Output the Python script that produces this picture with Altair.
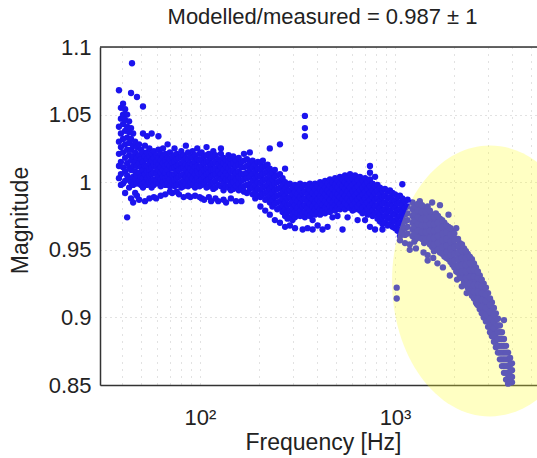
import altair as alt
import pandas as pd

# ---------------- data ----------------
# each region: column frequencies [Hz] and, per column, the magnitudes plotted there
low_freq = [38.4, 39.3, 40.3, 41.3, 42.3, 43.3, 44.3, 44.8, 45.4, 46.5, 47.5, 48.7, 49.8, 51.0, 52.2]
low_mag = [
    [1.068, 1.041, 1.030, 1.021, 1.012, 1.003],
    [1.055, 1.047, 1.036, 1.026, 1.015, 1.006, 0.998],
    [1.058, 1.050, 1.043, 1.032, 1.022, 1.011, 0.999],
    [1.054, 1.046, 1.038, 1.028, 1.018, 1.008, 1.001, 0.992],
    [1.050, 1.041, 1.033, 1.024, 1.014, 1.005, 0.974],
    [1.045, 1.037, 1.029, 1.020, 1.011, 1.003, 0.996],
    [1.066, 1.040, 1.032, 1.024, 1.016, 1.009, 1.000, 0.988],
    [1.088],
    [1.036, 1.027, 1.019, 1.012, 1.004, 0.998, 0.985],
    [1.030, 1.022, 1.015, 1.008, 1.002, 0.992],
    [1.063, 1.026, 1.018, 1.012, 1.005, 0.999, 0.990],
    [1.028, 1.020, 1.014, 1.007, 1.001, 0.987],
    [1.024, 1.017, 1.011, 1.004, 0.998],
    [1.056, 1.036, 1.022, 1.015, 1.009, 1.003, 0.996],
    [1.027, 1.019, 1.012, 1.006, 1.000, 0.986],
]

mid_freq = [53.5, 55.0, 56.5, 58.0, 59.6, 61.2, 62.9, 64.6, 66.4, 68.2, 70.1, 72.0,
            74.0, 76.0, 78.0, 80.2, 82.4, 84.6, 86.9, 89.3, 91.7, 94.3, 96.8, 99.5]
mid_mag = [
    [1.034, 1.022, 1.017, 1.012, 1.008, 1.003, 0.998],
    [1.025, 1.019, 1.014, 1.009, 1.005, 1.000, 0.988],
    [1.036, 1.021, 1.016, 1.011, 1.006, 1.001, 0.996],
    [1.023, 1.018, 1.013, 1.007, 1.002, 0.998, 0.989],
    [1.020, 1.015, 1.011, 1.006, 1.001, 0.988],
    [1.034, 1.024, 1.018, 1.013, 1.009, 1.004, 0.999],
    [1.021, 1.016, 1.011, 1.007, 1.002, 0.997, 0.990],
    [1.025, 1.019, 1.014, 1.009, 1.004, 1.000],
    [1.021, 1.016, 1.012, 1.007, 1.003, 0.998, 0.991],
    [1.028, 1.018, 1.013, 1.009, 1.004, 0.999],
    [1.022, 1.017, 1.012, 1.006, 1.002, 0.997, 0.993],
    [1.019, 1.014, 1.010, 1.005, 1.000, 0.992],
    [1.025, 1.020, 1.015, 1.011, 1.006, 1.001, 0.997],
    [1.021, 1.017, 1.012, 1.008, 1.003, 0.998, 0.993],
    [1.018, 1.013, 1.009, 1.004, 0.999, 0.991],
    [1.023, 1.019, 1.014, 1.010, 1.005, 1.000, 0.996],
    [1.020, 1.016, 1.011, 1.006, 1.001, 0.997, 0.989],
    [1.027, 1.018, 1.013, 1.009, 1.004, 0.999],
    [1.022, 1.017, 1.012, 1.007, 1.002, 0.997, 0.990],
    [1.019, 1.014, 1.010, 1.005, 1.000, 0.989],
    [1.023, 1.018, 1.013, 1.008, 1.003, 0.998],
    [1.020, 1.015, 1.011, 1.006, 1.001, 0.996, 0.990],
    [1.025, 1.017, 1.012, 1.008, 1.003, 0.998],
    [1.021, 1.016, 1.011, 1.006, 1.001, 0.997, 0.989],
]

hund_freq = [102, 105, 108, 111, 114, 117, 120, 124, 128, 132, 136, 140, 144, 148,
             153, 158, 163, 168, 174, 180, 186, 192, 198]
hund_mag = [
    [1.022, 1.017, 1.012, 1.007, 1.002, 0.998, 0.988],
    [1.019, 1.014, 1.009, 1.004, 0.999, 0.987],
    [1.026, 1.020, 1.015, 1.010, 1.006, 1.001, 0.996],
    [1.021, 1.016, 1.011, 1.007, 1.002, 0.997, 0.989],
    [1.018, 1.013, 1.009, 1.004, 0.999, 0.986],
    [1.023, 1.019, 1.014, 1.009, 1.005, 1.000, 0.995],
    [1.020, 1.015, 1.010, 1.006, 1.001, 0.996, 0.988],
    [1.017, 1.013, 1.008, 1.003, 0.998, 0.986],
    [1.025, 1.021, 1.016, 1.011, 1.006, 1.002, 0.997],
    [1.018, 1.014, 1.009, 1.004, 0.999, 0.994, 0.987],
    [1.016, 1.012, 1.007, 1.002, 0.997, 0.985],
    [1.020, 1.015, 1.010, 1.005, 1.001, 0.996],
    [1.017, 1.013, 1.008, 1.003, 0.998, 0.994, 0.988],
    [1.019, 1.014, 1.009, 1.004, 1.000, 0.995],
    [1.016, 1.012, 1.007, 1.002, 0.997, 0.986],
    [1.018, 1.013, 1.008, 1.004, 0.999, 0.994],
    [1.015, 1.011, 1.006, 1.001, 0.996, 0.986],
    [1.021, 1.016, 1.011, 1.006, 1.002, 0.997, 0.993],
    [1.017, 1.012, 1.007, 1.003, 0.998, 0.992],
    [1.022, 1.014, 1.009, 1.004, 0.999, 0.995],
    [1.016, 1.011, 1.006, 1.001, 0.996, 0.991],
    [1.013, 1.008, 1.003, 0.998, 0.993, 0.988],
    [1.015, 1.010, 1.005, 1.000, 0.995, 0.990],
]

dip_freq = [204, 210, 216, 222, 228, 235, 242, 249, 257, 265, 273, 281, 289, 298, 307, 316]
dip_mag = [
    [1.014, 1.009, 1.004, 0.999, 0.994, 0.989, 0.982],
    [1.016, 1.011, 1.006, 1.001, 0.996, 0.991],
    [1.012, 1.007, 1.002, 0.997, 0.992, 0.987, 0.979],
    [1.013, 1.008, 1.003, 0.998, 0.993, 0.988],
    [1.025, 1.010, 1.005, 1.000, 0.995, 0.990, 0.985, 0.976],
    [1.007, 1.002, 0.997, 0.992, 0.987, 0.982],
    [1.009, 1.004, 0.999, 0.994, 0.989, 0.984, 0.972],
    [1.005, 1.000, 0.995, 0.990, 0.985, 0.980],
    [1.028, 1.006, 1.001, 0.996, 0.991, 0.986, 0.981, 0.970],
    [1.003, 0.998, 0.993, 0.988, 0.983, 0.978],
    [1.010, 1.000, 0.995, 0.990, 0.985, 0.980, 0.975, 0.967],
    [0.998, 0.993, 0.988, 0.983, 0.978, 0.973],
    [0.999, 0.994, 0.989, 0.984, 0.979, 0.974, 0.968],
    [0.996, 0.991, 0.986, 0.981, 0.976, 0.972],
    [0.998, 0.993, 0.988, 0.983, 0.978, 0.974, 0.966],
    [0.996, 0.991, 0.986, 0.981, 0.977],
]

bump_freq = [326, 336, 345, 356, 366, 378, 389, 401, 413, 425, 438, 451, 464, 478, 493,
             507, 522, 538, 554, 571, 588, 606, 624, 643, 661, 681, 702, 723, 744, 767,
             790, 813, 837, 862, 888, 915, 942, 970]
bump_mag = [
    [0.999, 0.994, 0.989, 0.984, 0.979, 0.975],
    [0.997, 0.992, 0.987, 0.982, 0.977, 0.965],
    [1.049, 1.040, 1.034, 0.998, 0.993, 0.988, 0.983, 0.978, 0.974],
    [0.996, 0.991, 0.986, 0.981, 0.977, 0.966],
    [0.999, 0.994, 0.989, 0.984, 0.979, 0.975],
    [0.997, 0.992, 0.987, 0.982, 0.977, 0.972, 0.965],
    [0.999, 0.995, 0.990, 0.985, 0.980, 0.976],
    [0.997, 0.992, 0.987, 0.982, 0.978, 0.968],
    [1.000, 0.995, 0.990, 0.985, 0.980, 0.976],
    [0.998, 0.993, 0.988, 0.983, 0.979, 0.965],
    [1.001, 0.996, 0.991, 0.986, 0.981, 0.977],
    [0.999, 0.994, 0.989, 0.984, 0.980, 0.967],
    [1.002, 0.997, 0.992, 0.987, 0.982, 0.978],
    [1.000, 0.995, 0.990, 0.985, 0.981, 0.974],
    [1.003, 0.998, 0.993, 0.988, 0.983, 0.979],
    [1.001, 0.996, 0.991, 0.986, 0.981, 0.975],
    [1.004, 0.999, 0.994, 0.989, 0.984, 0.980],
    [1.002, 0.997, 0.992, 0.987, 0.982, 0.965],
    [1.005, 1.000, 0.995, 0.990, 0.985, 0.980],
    [1.003, 0.998, 0.993, 0.988, 0.983, 0.974],
    [1.006, 1.001, 0.996, 0.991, 0.986, 0.981],
    [1.003, 0.998, 0.993, 0.988, 0.983, 0.979],
    [1.005, 1.000, 0.995, 0.990, 0.985, 0.980],
    [1.002, 0.997, 0.992, 0.987, 0.982, 0.972],
    [1.004, 0.999, 0.994, 0.989, 0.984, 0.979],
    [1.001, 0.996, 0.991, 0.986, 0.981, 0.977],
    [1.003, 0.998, 0.993, 0.988, 0.983, 0.978, 0.972],
    [1.000, 0.995, 0.990, 0.985, 0.980, 0.976],
    [1.012, 1.007, 1.002, 0.997, 0.992, 0.987, 0.982, 0.977, 0.967],
    [0.999, 0.994, 0.989, 0.984, 0.979, 0.975],
    [1.004, 0.997, 0.992, 0.987, 0.982, 0.977, 0.965],
    [0.998, 0.993, 0.988, 0.983, 0.978, 0.973],
    [0.996, 0.991, 0.986, 0.981, 0.976, 0.971],
    [0.994, 0.989, 0.984, 0.979, 0.974, 0.969, 0.965],
    [0.995, 0.990, 0.985, 0.980, 0.975, 0.970],
    [0.993, 0.988, 0.983, 0.978, 0.973, 0.968],
    [0.994, 0.989, 0.984, 0.979, 0.974, 0.969],
    [0.992, 0.987, 0.982, 0.977, 0.972, 0.967],
]

kilo_freq = [1000, 1020, 1030, 1060, 1090, 1125, 1160]
kilo_mag = [
    [0.991, 0.986, 0.981, 0.976, 0.971, 0.966],
    [0.922, 0.914],
    [0.989, 0.984, 0.979, 0.974, 0.969, 0.964],
    [0.990, 0.985, 0.980, 0.975, 0.970, 0.965, 0.960, 0.957],
    [0.9985, 0.988, 0.983, 0.978, 0.973, 0.968, 0.963],
    [0.986, 0.981, 0.976, 0.971, 0.966, 0.961, 0.955],
    [0.987, 0.982, 0.977, 0.972, 0.967, 0.962],
]

roll_freq = [1190, 1230, 1280, 1340, 1400, 1410, 1470, 1550, 1570, 1620, 1650, 1700, 1760,
             1790, 1880, 1910, 1970, 2060, 2080, 2150, 2200, 2260, 2330, 2360, 2480,
             2600, 2630, 2720, 2850, 3000, 3140, 3290, 3450, 3620, 3800, 3980]
roll_mag = [
    [0.954, 0.950],
    [0.985, 0.980, 0.975, 0.970, 0.965, 0.960],
    [0.983, 0.978, 0.973, 0.968, 0.963, 0.958, 0.951],
    [0.986, 0.981, 0.976, 0.971, 0.966, 0.961],
    [0.948],
    [0.980, 0.975, 0.970, 0.965, 0.960, 0.955],
    [0.982, 0.977, 0.972, 0.967, 0.962, 0.957, 0.946, 0.942],
    [0.985, 0.976, 0.971, 0.966, 0.961, 0.956, 0.952],
    [0.944],
    [0.977, 0.972, 0.967, 0.962, 0.957, 0.951],
    [0.940],
    [0.983, 0.973, 0.968, 0.963, 0.958, 0.953, 0.948],
    [0.937],
    [0.970, 0.965, 0.960, 0.955, 0.950, 0.945],
    [0.976, 0.967, 0.962, 0.957, 0.952, 0.947, 0.943],
    [0.931],
    [0.964, 0.959, 0.954, 0.949, 0.944, 0.939],
    [0.966, 0.958, 0.953, 0.948, 0.943, 0.938, 0.934],
    [0.928],
    [0.955, 0.950, 0.945, 0.940, 0.935, 0.930],
    [0.923],
    [0.951, 0.946, 0.941, 0.936, 0.931, 0.926],
    [0.918],
    [0.947, 0.942, 0.937, 0.932, 0.927, 0.922],
    [0.943, 0.938, 0.932, 0.927, 0.921, 0.916],
    [0.937, 0.932, 0.927, 0.921, 0.916, 0.911],
    [0.910],
    [0.931, 0.926, 0.921, 0.916, 0.911, 0.906],
    [0.925, 0.920, 0.915, 0.910, 0.905, 0.900],
    [0.918, 0.913, 0.908, 0.903, 0.898, 0.893],
    [0.911, 0.906, 0.901, 0.896, 0.891, 0.886],
    [0.903, 0.898, 0.893, 0.888, 0.883, 0.878],
    [0.894, 0.889, 0.884, 0.879, 0.874, 0.869],
    [0.898, 0.884, 0.879, 0.874, 0.869, 0.864, 0.859],
    [0.874, 0.869, 0.864, 0.859, 0.855, 0.851],
    [0.866, 0.861, 0.856, 0.852],
]

# in-between readings of the roll-off band
roll2_freq = [1255, 1310, 1375, 1440, 1510, 1585, 1660, 1745, 1835, 1925, 2015, 2105,
              2205, 2310, 2420, 2540, 2660, 2785, 2925, 3070, 3215, 3370, 3535, 3710, 3890]
roll2_mag = [
    [0.982, 0.977, 0.972, 0.967, 0.962, 0.956],
    [0.984, 0.979, 0.974, 0.969, 0.964, 0.959],
    [0.983, 0.978, 0.973, 0.968, 0.963, 0.958],
    [0.978, 0.973, 0.968, 0.963, 0.958],
    [0.979, 0.974, 0.969, 0.964, 0.959, 0.954],
    [0.974, 0.969, 0.964, 0.959, 0.954, 0.949],
    [0.975, 0.970, 0.965, 0.960, 0.955, 0.950],
    [0.972, 0.967, 0.962, 0.957, 0.952, 0.947],
    [0.968, 0.963, 0.958, 0.953, 0.948, 0.944],
    [0.966, 0.961, 0.956, 0.951, 0.946, 0.941],
    [0.962, 0.957, 0.952, 0.947, 0.942, 0.937],
    [0.958, 0.953, 0.948, 0.943, 0.938, 0.933],
    [0.954, 0.949, 0.944, 0.939, 0.934, 0.929],
    [0.949, 0.944, 0.939, 0.934, 0.929, 0.924],
    [0.945, 0.940, 0.935, 0.930, 0.925, 0.919],
    [0.940, 0.935, 0.930, 0.924, 0.919, 0.914],
    [0.934, 0.929, 0.924, 0.919, 0.914, 0.909],
    [0.928, 0.923, 0.918, 0.913, 0.908, 0.903],
    [0.922, 0.917, 0.912, 0.907, 0.902, 0.897],
    [0.914, 0.909, 0.904, 0.899, 0.894, 0.889],
    [0.907, 0.902, 0.897, 0.892, 0.887, 0.882],
    [0.899, 0.894, 0.889, 0.884, 0.879, 0.874],
    [0.889, 0.884, 0.879, 0.874, 0.869, 0.864],
    [0.879, 0.874, 0.869, 0.864, 0.859, 0.854],
    [0.870, 0.865, 0.860, 0.856, 0.852],
]

# highlighted region (yellow ellipse) centre, in data units
highlight_freq = [3070]
highlight_mag = [0.927]

x_grid = [40, 50, 60, 70, 80, 90, 100, 200, 300, 400, 500, 600, 700, 800, 900,
          1000, 2000, 3000, 4000, 5000]
y_ticks = [0.85, 0.9, 0.95, 1.0, 1.05, 1.1]
x_domain = [30.7, 5346]
y_domain = [0.85, 1.1]

title_text = "Modelled/measured = 0.987 \u00b1 1"

# ---------------- build table ----------------
rows = []
for freqs, mags in [(low_freq, low_mag), (mid_freq, mid_mag), (hund_freq, hund_mag),
                    (dip_freq, dip_mag), (bump_freq, bump_mag), (kilo_freq, kilo_mag),
                    (roll_freq, roll_mag), (roll2_freq, roll2_mag)]:
    for f, col in zip(freqs, mags):
        for m in col:
            rows.append({"freq": f, "mag": m})
df = pd.DataFrame(rows)
hl = pd.DataFrame({"freq": highlight_freq, "mag": highlight_mag})

FONT = "Liberation Sans"
TXT = "#222222"
AXC = "#333333"

xscale = alt.Scale(type="log", domain=x_domain, nice=False)
yscale = alt.Scale(domain=y_domain, nice=False, zero=False)

x_axis = alt.Axis(
    values=x_grid,
    labelExpr="datum.value == 100 ? '10\u00b2' : (datum.value == 1000 ? '10\u00b3' : '')",
    labelFont=FONT, labelFontSize=22, labelColor=TXT, labelPadding=22,
    labelOverlap=False, labelFlush=False,
    tickSize=0, domainColor=AXC, domainWidth=1.5,
    grid=True, gridColor="#c4c4c4", gridDash=[1, 6], gridWidth=1,
    title="Frequency [Hz]", titleFont=FONT, titleFontSize=23, titleFontWeight="normal",
    titleColor=TXT, titleX=223, titleY=64, titleBaseline="alphabetic", titleAlign="center",
)
y_axis = alt.Axis(
    values=y_ticks, format=".3~g",
    labelFont=FONT, labelFontSize=22, labelColor=TXT, labelPadding=9,
    tickSize=0, domainColor=AXC, domainWidth=1.5,
    grid=True, gridColor="#c4c4c4", gridDash=[1, 4], gridWidth=1,
    title="Magnitude", titleFont=FONT, titleFontSize=23, titleFontWeight="normal",
    titleColor=TXT, titleX=-73, titleY=173, titleAngle=270,
    titleBaseline="alphabetic", titleAlign="center",
)

points = alt.Chart(df).mark_circle(size=40, color="#1c14ee", opacity=1).encode(
    x=alt.X("freq:Q", scale=xscale, axis=x_axis),
    y=alt.Y("mag:Q", scale=yscale, axis=y_axis),
)

ellipse_path = ("M 0.723 0 C 0.723 0.552 0.399 1 0 1 C -0.399 1 -0.723 0.552 -0.723 0 "
                "C -0.723 -0.552 -0.399 -1 0 -1 C 0.399 -1 0.723 -0.552 0.723 0 Z")
ellipse = alt.Chart(hl).mark_point(
    shape=ellipse_path, size=73441, filled=True, color="#ffff30",
    opacity=0.29, strokeWidth=0,
).encode(
    x=alt.X("freq:Q", scale=xscale, axis=x_axis),
    y=alt.Y("mag:Q", scale=yscale, axis=y_axis),
)

# top frame line of the plot box
top_frame = alt.Chart(hl).mark_rule(color=AXC, strokeWidth=1.5).encode(
    x=alt.value(0), x2=alt.value("width"), y=alt.value(0),
)

chart = alt.layer(points, ellipse, top_frame).properties(
    width=437, height=338,
    autosize=alt.AutoSizeParams(type="none"),
    padding={"left": 100, "top": 47, "right": 0, "bottom": 73},
    title=alt.TitleParams(
        text=title_text, font=FONT, fontSize=22, fontWeight="normal", color=TXT,
        anchor="middle", frame="group", offset=22, baseline="alphabetic", dx=4, dy=32,
    ),
).configure_view(stroke=None).configure(background="white")

chart.save("out.html", embed_options={"renderer": "svg", "actions": False})
